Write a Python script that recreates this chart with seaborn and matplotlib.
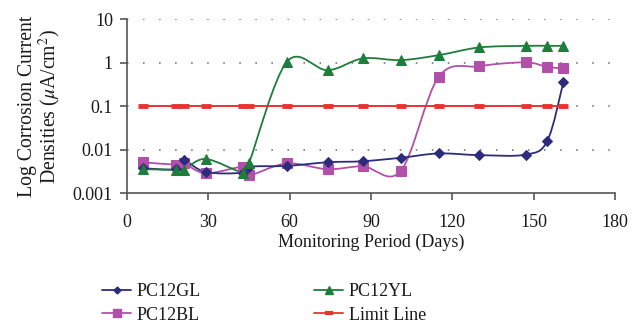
import numpy as np
import pandas as pd
import matplotlib
matplotlib.use("Agg")
import matplotlib.pyplot as plt
from matplotlib.path import Path
from matplotlib.patches import PathPatch
from matplotlib.lines import Line2D
import seaborn as sns

days = [6, 18, 21, 29, 43, 45, 59, 74, 87, 101, 115, 130, 147, 155, 161]
pc12gl = [0.0038, 0.0036, 0.0058, 0.0031, 0.0030, 0.0041, 0.0043, 0.0052, 0.0055, 0.0066, 0.0083, 0.0076, 0.0078, 0.016, 0.37]
pc12yl = [0.0036, 0.0035, 0.0035, 0.0062, 0.0030, 0.0049, 1.06, 0.68, 1.27, 1.16, 1.51, 2.27, 2.47, 2.47, 2.47]
pc12bl = [0.0052, 0.0046, 0.0050, 0.0029, 0.0041, 0.0026, 0.0049, 0.0036, 0.0042, 0.0033, 0.48, 0.84, 1.03, 0.81, 0.75]
limit = [0.1] * len(days)

colors = {"PC12GL": "#2D2C7C", "PC12YL": "#1F7D3B", "PC12BL": "#B24FA8", "Limit Line": "#E8332F"}
markers = {"PC12GL": "D", "PC12YL": "^", "PC12BL": "s", "Limit Line": "_"}
msizes = {"PC12GL": 5.5, "PC12YL": 7.5, "PC12BL": 7.5, "Limit Line": 7}

sns.set_style("white")
plt.rcParams["font.family"] = ["Liberation Serif", "DejaVu Serif"]
plt.rcParams["mathtext.fontset"] = "stix"

fig = plt.figure(figsize=(6.44, 3.24), dpi=100)
ax = fig.add_axes([0.197, 0.403, 0.758, 0.537])
ax.set_yscale("log")


def smooth_path(x, y):
    xs = np.asarray(x, float)
    ly = np.log10(np.asarray(y, float))
    n = len(xs)
    verts = [(xs[0], 10 ** ly[0])]
    codes = [Path.MOVETO]
    for i in range(n - 1):
        p0 = i - 1 if i > 0 else 0
        p3 = i + 2 if i + 2 < n else n - 1
        c1x = xs[i] + (xs[i + 1] - xs[p0]) / 6
        c1y = ly[i] + (ly[i + 1] - ly[p0]) / 6
        c2x = xs[i + 1] - (xs[p3] - xs[i]) / 6
        c2y = ly[i + 1] - (ly[p3] - ly[i]) / 6
        verts += [(c1x, 10 ** c1y), (c2x, 10 ** c2y), (xs[i + 1], 10 ** ly[i + 1])]
        codes += [Path.CURVE4] * 3
    return Path(verts, codes)


for yv in [0.01, 0.1, 1, 10]:
    ax.axhline(yv, color="#666666", lw=1.1, ls=(0, (1, 9.5)), zorder=1)

ax.plot(days, limit, color=colors["Limit Line"], lw=1.4, ls="-", zorder=2.5)
dfl = pd.DataFrame({"day": days, "val": limit})
sns.scatterplot(data=dfl, x="day", y="val", ax=ax, color=colors["Limit Line"],
                marker="_", s=49, linewidth=3.5, zorder=2.6)

series = {"PC12GL": pc12gl, "PC12YL": pc12yl, "PC12BL": pc12bl}
for name in ["PC12BL", "PC12GL", "PC12YL"]:
    vals = series[name]
    patch = PathPatch(smooth_path(days, vals), facecolor="none", edgecolor=colors[name],
                      lw=1.3, transform=ax.transData, zorder=2)
    ax.add_patch(patch)
    df = pd.DataFrame({"day": days, "val": vals})
    sns.lineplot(data=df, x="day", y="val", ax=ax, color=colors[name], marker=markers[name],
                 markersize=msizes[name], linestyle="none", markeredgecolor=colors[name], zorder=3)

ax.set_xlim(0, 180)
ax.set_ylim(0.001, 10)
ax.set_xticks([0, 30, 60, 90, 120, 150, 180])
ax.set_yticks([0.001, 0.01, 0.1, 1, 10])
ax.set_yticklabels(["0.001", "0.01", "0.1", "1", "10"])
ax.yaxis.set_minor_locator(matplotlib.ticker.NullLocator())

for s in ["top", "right"]:
    ax.spines[s].set_visible(False)
for s in ["left", "bottom"]:
    ax.spines[s].set_color("#555555")
    ax.spines[s].set_linewidth(1.2)
ax.tick_params(axis="both", direction="out", length=5, width=1.2, color="#555555",
               labelsize=13, labelcolor="#1a1a1a", left=True, bottom=True)
ax.tick_params(axis="x", pad=10)
ax.tick_params(axis="y", pad=5)

ax.set_xlabel("Monitoring Period (Days)", fontsize=13, color="#1a1a1a", labelpad=2)
ax.set_ylabel("Log Corrosion Current\nDensities ($\\mu$A/cm$^2$)", fontsize=14.2,
              color="#1a1a1a", linespacing=1.0)
ax.yaxis.set_label_coords(-0.131, 0.5)

handles = []
for name in ["PC12GL", "PC12BL", "PC12YL", "Limit Line"]:
    ms = msizes[name] - (2 if name != "Limit Line" else 1)
    mew = 3 if name == "Limit Line" else 1
    handles.append(Line2D([], [], color=colors[name], lw=1.3, marker=markers[name],
                          markersize=ms, markeredgewidth=mew, markeredgecolor=colors[name]))
labels = ["PC12GL", "PC12BL", "PC12YL", "Limit Line"]
fig.legend(handles, labels, loc="center", bbox_to_anchor=(0.41, 0.064), ncol=2, frameon=False,
           fontsize=13, handlelength=1.6, handletextpad=0.3, columnspacing=6.3,
           labelspacing=0.36, labelcolor="#1a1a1a", borderpad=0.0)

fig.savefig("out.png", dpi=100)
